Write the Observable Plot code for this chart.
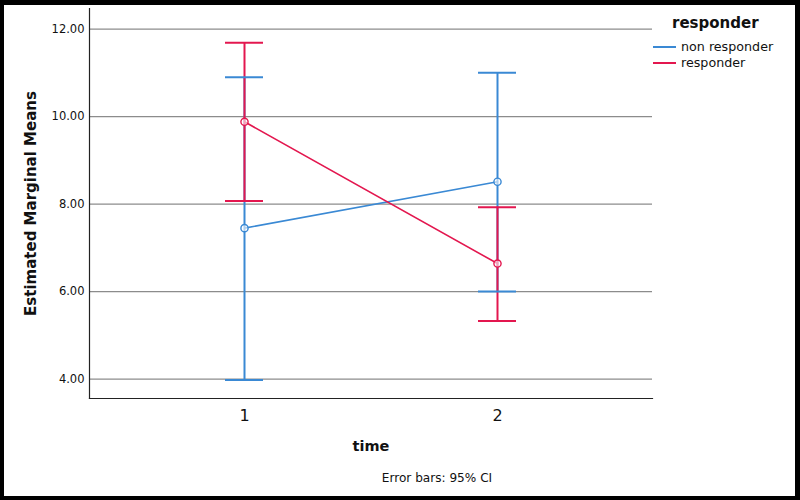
<!DOCTYPE html>
<html>
<head>
<meta charset="utf-8">
<script src="https://cdn.jsdelivr.net/npm/d3@7"></script>
<script src="https://cdn.jsdelivr.net/npm/@observablehq/plot@0.6"></script>
<style>
  html, body { margin: 0; padding: 0; background: white; }
  #page { position: relative; width: 800px; height: 500px; overflow: hidden; background: white; font-family: "DejaVu Sans", sans-serif; }
  #chart { position: absolute; left: 0; top: 0; }
  #chart svg { background: transparent; }
  #border { position: absolute; left: 0; top: 0; width: 800px; height: 500px; box-sizing: border-box;
            border-style: solid; border-color: #000; border-width: 5px 5px 4px 4px; pointer-events: none; }
  #legend { position: absolute; left: 653px; top: 13px; color: #111; }
  #legend .title { font-weight: bold; font-size: 15px; margin-left: 19px; line-height: 20px; }
  #legend .item { display: flex; align-items: center; font-size: 12.7px; line-height: 16px; height: 16px; }
  #legend .item svg { margin-right: 5px; }
</style>
</head>
<body>
<div id="page">
  <div id="chart"></div>
  <div id="legend"></div>
  <div id="border"></div>
</div>
<script>
// ---- data ----
const times = ["1", "2"];
const groups = ["non responder", "responder"];
const colors = ["#3a89d4", "#e3174f"];

const nonResponderMean = [7.45, 8.51];
const nonResponderLow  = [3.98, 6.00];
const nonResponderHigh = [10.90, 11.00];

const responderMean = [9.88, 6.64];
const responderLow  = [8.07, 5.33];
const responderHigh = [11.69, 7.93];

const yTicks = [4, 6, 8, 10, 12];

const xLabel = "time";
const yLabel = "Estimated Marginal Means";
const caption = "Error bars: 95% CI";

// ---- build table ----
const series = [
  {group: groups[0], mean: nonResponderMean, low: nonResponderLow, high: nonResponderHigh},
  {group: groups[1], mean: responderMean, low: responderLow, high: responderHigh}
];
const rows = series.flatMap(s => times.map((t, i) => ({
  time: t, group: s.group, mean: s.mean[i], low: s.low[i], high: s.high[i]
})));

const colorScale = {domain: groups, range: colors};

const plot = Plot.plot({
  width: 800,
  height: 500,
  marginLeft: 89,
  marginRight: 148,
  marginTop: 8,
  marginBottom: 102,
  style: {fontFamily: "DejaVu Sans, sans-serif", background: "transparent", color: "#111"},
  x: {domain: times, type: "band", paddingInner: 0.8498, paddingOuter: 0.5375, label: null},
  y: {domain: [3.556, 12.47], label: null},
  color: colorScale,
  marks: [
    Plot.ruleY(yTicks, {stroke: "#8c8c8c", strokeWidth: 1.2}),
    Plot.frame({anchor: "left", stroke: "#222", strokeWidth: 1.2}),
    Plot.frame({anchor: "bottom", stroke: "#222", strokeWidth: 1.2}),
    Plot.axisY(yTicks, {tickSize: 0, tickPadding: 5, tickFormat: d3.format(".2f"), fontSize: 11.5, fill: "#111", label: null}),
    Plot.axisX({tickSize: 0, tickPadding: 11, fontSize: 16, fill: "#111", label: null}),
    // error bars
    Plot.ruleX(rows, {x: "time", y1: "low", y2: "high", stroke: "group", strokeWidth: 2}),
    Plot.tickY(rows, {x: "time", y: "low", stroke: "group", strokeWidth: 2}),
    Plot.tickY(rows, {x: "time", y: "high", stroke: "group", strokeWidth: 2}),
    // means
    Plot.line(rows, {x: "time", y: "mean", z: "group", stroke: "group", strokeWidth: 1.6}),
    Plot.dot(rows, {x: "time", y: "mean", stroke: "group", fill: "white", fillOpacity: 0.6, r: 3.6, strokeWidth: 1.4}),
    // titles
    Plot.text([yLabel], {frameAnchor: "left", dx: -58, rotate: -90, textAnchor: "middle", fontSize: 15, fontWeight: "bold", fill: "#111"}),
    Plot.text([xLabel], {frameAnchor: "bottom", dy: 52, fontSize: 14.5, fontWeight: "bold", fill: "#111"}),
    Plot.text([caption], {frameAnchor: "bottom", dx: 66, dy: 83, fontSize: 12.1, fill: "#111"})
  ]
});
document.getElementById("chart").appendChild(plot);

// ---- legend ----
const legend = document.getElementById("legend");
const title = document.createElement("div");
title.className = "title";
title.textContent = "responder";
legend.appendChild(title);
const legendGap = document.createElement("div");
legendGap.style.height = "6px";
legend.appendChild(legendGap);
groups.forEach((g, i) => {
  const item = document.createElement("div");
  item.className = "item";
  item.innerHTML = `<svg width="23" height="4"><line x1="0" x2="23" y1="2" y2="2" stroke="${colors[i]}" stroke-width="2"/></svg><span>${g}</span>`;
  legend.appendChild(item);
});
</script>
</body>
</html>
